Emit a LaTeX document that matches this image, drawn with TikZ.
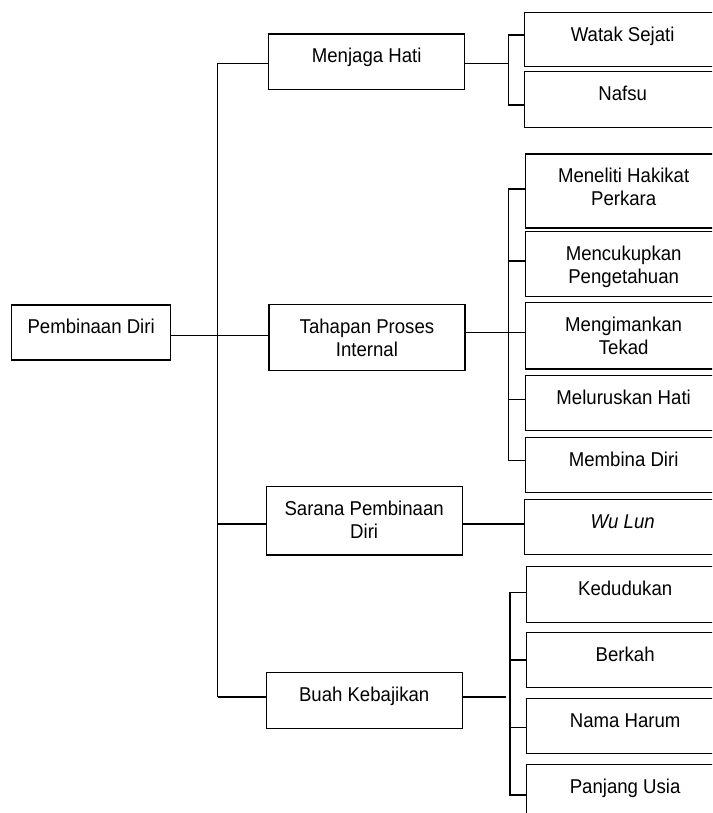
\documentclass[tikz,border=0pt]{standalone}
\usepackage{fontspec}
\setmainfont[FakeStretch=0.93]{Liberation Sans}
\newcommand{\mylines}[1]{\begin{tabular}[t]{@{}c@{}}#1\end{tabular}}
\begin{document}
\begin{tikzpicture}[x=1pt,y=-1pt,
  bx/.style={draw, line width=1.3pt, anchor=north west, inner xsep=0pt, inner ysep=0pt,
    align=center, font=\fontsize{20}{23.3}\selectfont,
    text height=28.7pt, text depth=#1},
  midbx/.style={bx=#1, minimum width=196pt},
  rbx/.style={bx=#1, minimum width=197pt},
  link/.style={draw, line width=1.3pt}]
\path[use as bounding box] (0,0) rectangle (712,813);
\clip (0,0) rectangle (712,813);

% root
\node[bx=26.3pt, minimum width=159pt] (pem) at (11,304.3) {Pembinaan Diri};

% middle column
\node[midbx=27pt]   (men) at (268,33.3) {Menjaga Hati};
\node[midbx=37.3pt] (tah) at (268.3,304) {\mylines{Tahapan Proses\\Internal}};
\node[midbx=39.6pt] (sar) at (265.5,486) {\mylines{Sarana Pembinaan\\Diri}};
\node[midbx=27.3pt] (bua) at (265.5,672) {Buah Kebajikan};

% right column
\node[rbx=25.6pt] (wat) at (523.5,11.7)  {Watak Sejati};
\node[rbx=27.3pt] (naf) at (523.5,70.7)  {Nafsu};
\node[rbx=45.3pt] (mnl) at (524.5,153.3) {\mylines{Meneliti Hakikat\\Perkara}};
\node[rbx=36.3pt] (mcu) at (524.5,230.7) {\mylines{Mencukupkan\\Pengetahuan}};
\node[rbx=37.9pt] (mgi) at (524.5,301.7) {\mylines{Mengimankan\\Tekad}};
\node[rbx=26.3pt] (mlr) at (524.5,375)   {Meluruskan Hati};
\node[rbx=26.3pt] (mbd) at (524.5,436.7) {Membina Diri};
\node[rbx=26.3pt] (wul) at (523.5,499)   {\textit{Wu Lun}};
\node[rbx=27pt]   (ked) at (526,566)     {Kedudukan};
\node[rbx=26.3pt] (ber) at (526,632)     {Berkah};
\node[rbx=26.3pt] (nam) at (526,698)     {Nama Harum};
\node[rbx=35pt]   (pan) at (526,764)     {Panjang Usia};

% trunk
\coordinate (tt) at (217.7,63.3);
\coordinate (tb) at (217.7,697);
\coordinate (tp) at (217.7,335.7);
\coordinate (ts) at (217.7,524);
\draw[link] (tt) -- (tb);
\draw[link] (tt) -- (men.west |- tt);
\draw[link] (pem.east |- tp) -- (tah.west |- tp);
\draw[link] (ts) -- (sar.west |- ts);
\draw[link] (tb) -- (bua.west |- tb);

% bracket 1: Menjaga Hati
\coordinate (b1m) at (508.3,63.3);
\coordinate (b1t) at (508.3,35);
\coordinate (b1b) at (508.3,105);
\draw[link] (men.east |- b1m) -- (b1m);
\draw[link] (wat.west |- b1t) -- (b1t) -- (b1b) -- (naf.west |- b1b);

% bracket 2: Tahapan Proses Internal
\coordinate (b2m) at (508.3,332.7);
\coordinate (b2t) at (508.3,189);
\coordinate (b2b) at (508.3,460.3);
\coordinate (b2a) at (508.3,261);
\coordinate (b2c) at (508.3,399.3);
\draw[link] (tah.east |- b2m) -- (b2m);
\draw[link] (mnl.west |- b2t) -- (b2t) -- (b2b) -- (mbd.west |- b2b);
\draw[link] (b2a) -- (mcu.west |- b2a);
\draw[link] (b2m) -- (mgi.west |- b2m);
\draw[link] (b2c) -- (mlr.west |- b2c);

% Sarana -> Wu Lun
\draw[link] (sar.east |- ts) -- (wul.west |- ts);

% bracket 3: Buah Kebajikan
\coordinate (b3e) at (506,697);
\coordinate (b3t) at (510,592.7);
\coordinate (b3b) at (510,795);
\coordinate (b3a) at (510,660);
\coordinate (b3c) at (510,727.3);
\draw[link] (bua.east |- b3e) -- (b3e);
\draw[link] (ked.west |- b3t) -- (b3t) -- (b3b) -- (pan.west |- b3b);
\draw[link] (b3a) -- (ber.west |- b3a);
\draw[link] (b3c) -- (nam.west |- b3c);
\end{tikzpicture}
\end{document}
